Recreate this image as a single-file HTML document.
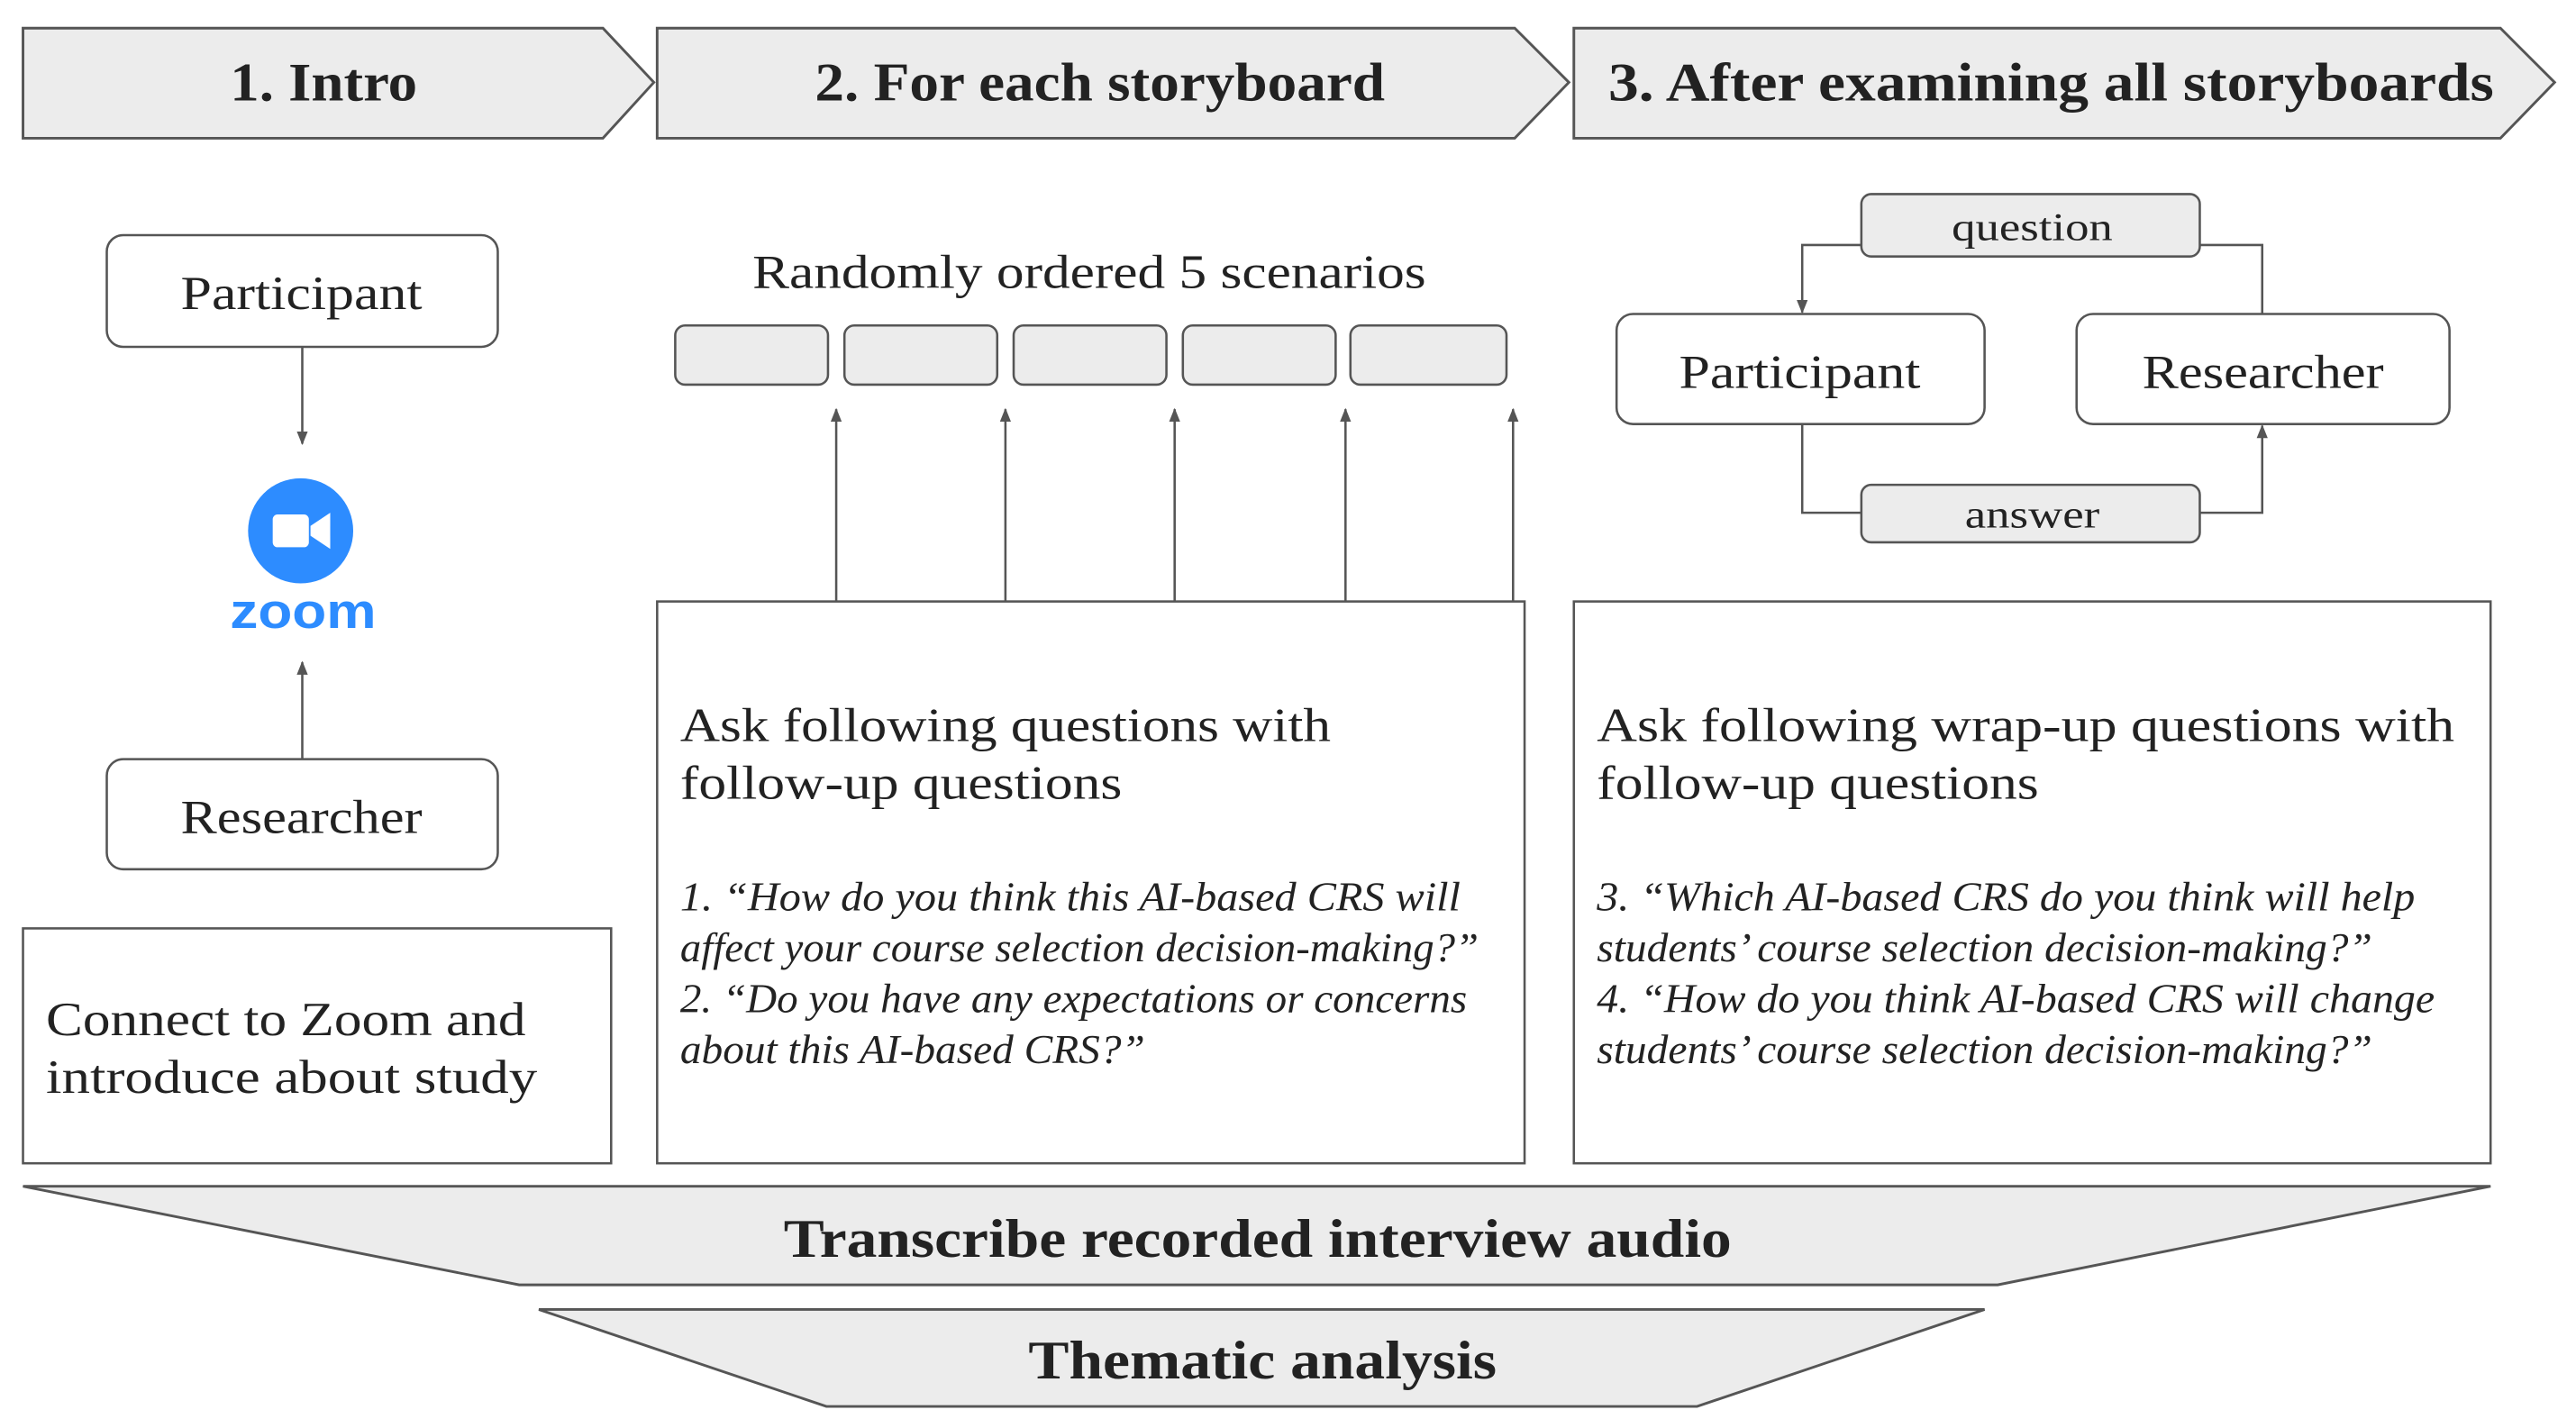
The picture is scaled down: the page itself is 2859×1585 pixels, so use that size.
<!DOCTYPE html>
<html><head><meta charset="utf-8"><style>html,body{margin:0;padding:0;background:#fff}svg{display:block}</style></head>
<body>
<svg width="2859" height="1585" viewBox="0 0 1568 869" xmlns="http://www.w3.org/2000/svg" font-family="Liberation Serif, serif" fill="#222">
<defs>
<marker id="ah" viewBox="0 0 10 10" refX="9" refY="5" markerWidth="6" markerHeight="6" orient="auto-start-reverse"><path d="M0,1 L10,5 L0,9 z" fill="#555"/></marker>
</defs>
<g stroke="#555" stroke-width="1.6" fill="#ececec">
<polygon points="14,17 367,17 398,50 367,84 14,84"/>
<polygon points="400,17 922,17 955,50 922,84 400,84"/>
<polygon points="958,17 1522,17 1555,50 1522,84 958,84"/>
<polygon points="14,722 1516,722 1216,782 316,782"/>
<polygon points="328,797 1208,797 1033,856 503,856"/>
</g>
<g font-weight="bold" font-size="33">
<text x="140" y="61" textLength="114" lengthAdjust="spacingAndGlyphs">1. Intro</text>
<text x="496" y="61" textLength="347" lengthAdjust="spacingAndGlyphs">2. For each storyboard</text>
<text x="979" y="61" textLength="539" lengthAdjust="spacingAndGlyphs">3. After examining all storyboards</text>
<text x="477" y="765" textLength="577" lengthAdjust="spacingAndGlyphs">Transcribe recorded interview audio</text>
<text x="626" y="839" textLength="285" lengthAdjust="spacingAndGlyphs">Thematic analysis</text>
</g>
<g stroke="#555" stroke-width="1.4" fill="#fff">
<rect x="65" y="143" width="238" height="68" rx="10"/>
<rect x="65" y="462" width="238" height="67" rx="10"/>
<rect x="14" y="565" width="358" height="143"/>
<rect x="400" y="366" width="528" height="342"/>
<rect x="958" y="366" width="558" height="342"/>
<rect x="984" y="191" width="224" height="67" rx="10"/>
<rect x="1264" y="191" width="227" height="67" rx="10"/>
</g>
<g stroke="#555" stroke-width="1.4" fill="#ececec">
<rect x="411" y="198" width="93" height="36" rx="6"/>
<rect x="514" y="198" width="93" height="36" rx="6"/>
<rect x="617" y="198" width="93" height="36" rx="6"/>
<rect x="720" y="198" width="93" height="36" rx="6"/>
<rect x="822" y="198" width="95" height="36" rx="6"/>
<rect x="1133" y="118" width="206" height="38" rx="6"/>
<rect x="1133" y="295" width="206" height="35" rx="6"/>
</g>
<g stroke="#555" stroke-width="1.4" fill="none">
<line x1="184" y1="211" x2="184" y2="270" marker-end="url(#ah)"/>
<line x1="184" y1="462" x2="184" y2="403" marker-end="url(#ah)"/>
<line x1="509" y1="366" x2="509" y2="249" marker-end="url(#ah)"/>
<line x1="612" y1="366" x2="612" y2="249" marker-end="url(#ah)"/>
<line x1="715" y1="366" x2="715" y2="249" marker-end="url(#ah)"/>
<line x1="819" y1="366" x2="819" y2="249" marker-end="url(#ah)"/>
<line x1="921" y1="366" x2="921" y2="249" marker-end="url(#ah)"/>
<polyline points="1133,149 1097,149 1097,190" marker-end="url(#ah)"/>
<polyline points="1339,149 1377,149 1377,191"/>
<polyline points="1097,258 1097,312 1133,312"/>
<polyline points="1339,312 1377,312 1377,259" marker-end="url(#ah)"/>
</g>
<circle cx="183" cy="323" r="32" fill="#2D8CFF"/>
<rect x="166" y="313" width="22" height="20" rx="3" fill="#fff"/>
<polygon points="189,320 201,312 201,334 189,326" fill="#fff"/>
<text x="140" y="382" font-family="Liberation Sans, sans-serif" font-weight="bold" font-size="30" fill="#2D8CFF" textLength="89" lengthAdjust="spacingAndGlyphs">zoom</text>
<g font-size="29">
<text x="110" y="188" textLength="147" lengthAdjust="spacingAndGlyphs">Participant</text>
<text x="110" y="507" textLength="147" lengthAdjust="spacingAndGlyphs">Researcher</text>
<text x="1022" y="236" textLength="147" lengthAdjust="spacingAndGlyphs">Participant</text>
<text x="1304" y="236" textLength="147" lengthAdjust="spacingAndGlyphs">Researcher</text>
<text x="28" y="630" textLength="292" lengthAdjust="spacingAndGlyphs">Connect to Zoom and</text>
<text x="28" y="665" textLength="299" lengthAdjust="spacingAndGlyphs">introduce about study</text>
<text x="458" y="175" textLength="410" lengthAdjust="spacingAndGlyphs">Randomly ordered 5 scenarios</text>
<text x="414" y="451" textLength="396" lengthAdjust="spacingAndGlyphs">Ask following questions with</text>
<text x="414" y="486" textLength="269" lengthAdjust="spacingAndGlyphs">follow-up questions</text>
<text x="972" y="451" textLength="522" lengthAdjust="spacingAndGlyphs">Ask following wrap-up questions with</text>
<text x="972" y="486" textLength="269" lengthAdjust="spacingAndGlyphs">follow-up questions</text>
</g>
<g font-size="24">
<text x="1188" y="146" textLength="98" lengthAdjust="spacingAndGlyphs">question</text>
<text x="1196" y="321" textLength="82" lengthAdjust="spacingAndGlyphs">answer</text>
</g>
<g font-size="25" font-style="italic">
<text x="414" y="554" textLength="475" lengthAdjust="spacingAndGlyphs">1. “How do you think this AI-based CRS will</text>
<text x="414" y="585" textLength="486" lengthAdjust="spacingAndGlyphs">affect your course selection decision-making?”</text>
<text x="414" y="616" textLength="479" lengthAdjust="spacingAndGlyphs">2. “Do you have any expectations or concerns</text>
<text x="414" y="647" textLength="283" lengthAdjust="spacingAndGlyphs">about this AI-based CRS?”</text>
<text x="972" y="554" textLength="498" lengthAdjust="spacingAndGlyphs">3. “Which AI-based CRS do you think will help</text>
<text x="972" y="585" textLength="472" lengthAdjust="spacingAndGlyphs">students’ course selection decision-making?”</text>
<text x="972" y="616" textLength="510" lengthAdjust="spacingAndGlyphs">4. “How do you think AI-based CRS will change</text>
<text x="972" y="647" textLength="472" lengthAdjust="spacingAndGlyphs">students’ course selection decision-making?”</text>
</g>
</svg>
</body></html>
